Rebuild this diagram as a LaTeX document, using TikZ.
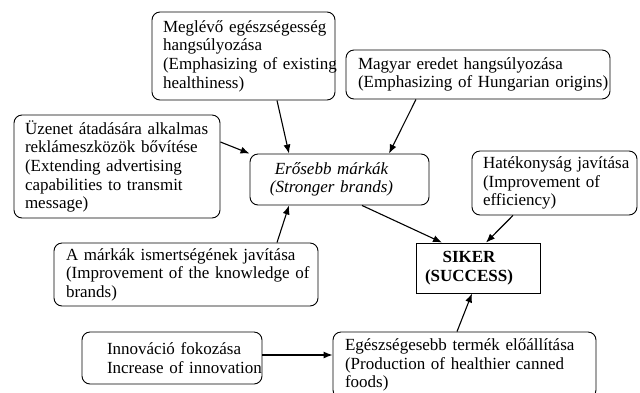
\documentclass[tikz,border=0pt]{standalone}
\usepackage{fontspec}
\setmainfont{Liberation Serif}
\usetikzlibrary{arrows.meta}
\newcommand\ml[1]{\mbox{#1}}
\newcommand\mlr[2]{\mbox{#1\hspace{#2}}}
\begin{document}
\begin{tikzpicture}[x=1pt,y=-1pt,
  bx/.style={draw, line width=0.9pt, rounded corners=8pt, align=left, inner ysep=0pt,
    font=\fontsize{17}{18.6}\selectfont},
  arr/.style={line width=1.1pt, -{Latex[length=9pt,width=7pt]}}]
\useasboundingbox[fill=white] (0,0) rectangle (640,392);
\node[bx, minimum width=183pt, minimum height=88pt, inner xsep=11pt, text width=161pt] (b1) at (243.5,56)
  {\ml{Meglévő egészségesség}\\\ml{hangsúlyozása}\\\ml{(Emphasizing of existing}\\\ml{healthiness)}};
\node[bx, minimum width=264pt, minimum height=49pt, inner xsep=12pt, text width=240pt] (b2) at (478,74.5)
  {\ml{Magyar eredet hangsúlyozása}\\\ml{(Emphasizing of Hungarian origins)}};
\node[bx, minimum width=206pt, minimum height=103pt, inner xsep=11pt, text width=184pt] (b3) at (117,166.5)
  {\ml{Üzenet átadására alkalmas}\\\ml{reklámeszközök bővítése}\\\ml{(Extending advertising}\\\ml{capabilities to transmit}\\\ml{message)}};
\node[bx, align=center, minimum width=179pt, minimum height=51pt, inner xsep=8pt, text width=147pt] (b4) at (339.5,179.5)
  {\itshape\mlr{Erősebb márkák}{16pt}\\\mlr{(Stronger brands)}{16pt}};
\node[bx, minimum width=165pt, minimum height=64pt, inner xsep=11pt, text width=143pt] (b5) at (554.5,183)
  {\ml{Hatékonyság javítása}\\\ml{(Improvement of}\\\ml{efficiency)}};
\node[bx, minimum width=264pt, minimum height=63pt, inner xsep=12pt, text width=240pt] (b6) at (186,274.5)
  {\ml{A márkák ismertségének javítása}\\\ml{(Improvement of the knowledge of}\\\ml{brands)}};
\node[bx, rounded corners=0pt, align=center, minimum width=124pt, minimum height=50pt, inner xsep=6pt, text width=112pt] (s) at (478,268)
  {\bfseries\mlr{SIKER}{18pt}\\\mlr{(SUCCESS)}{18pt}};
\node[bx, minimum width=180pt, minimum height=52pt, inner xsep=25pt, text width=130pt] (b8) at (172,358)
  {\ml{Innováció fokozása}\\\ml{Increase of innovation}};
\node[bx, minimum width=263pt, minimum height=66pt, inner xsep=12pt, text width=239pt] (b9) at (464.5,365)
  {\ml{Egészségesebb termék előállítása}\\\ml{(Production of healthier canned}\\\ml{foods)}};
\draw[arr] ([xshift=33.5pt]b1.south) -- ([xshift=-50.5pt]b4.north);
\draw[arr] ([xshift=-62pt]b2.south) -- ([xshift=49.5pt]b4.north);
\draw[arr] ([yshift=24.5pt]b3.east) -- (b4.north west);
\draw[arr] ([xshift=91pt]b6.north) -- ([xshift=-50.5pt]b4.south);
\draw[arr] ([xshift=22.5pt]b4.south) -- ([xshift=-36pt]s.north);
\draw[arr] ([xshift=-41.5pt]b5.south) -- ([xshift=8pt]s.north);
\draw[arr] ([xshift=-7.5pt]b9.north) -- ([xshift=-6pt]s.south);
\draw[arr] ([yshift=3pt]b8.east) -- ([yshift=3pt]b8.east -| b9.west);
\end{tikzpicture}
\end{document}
